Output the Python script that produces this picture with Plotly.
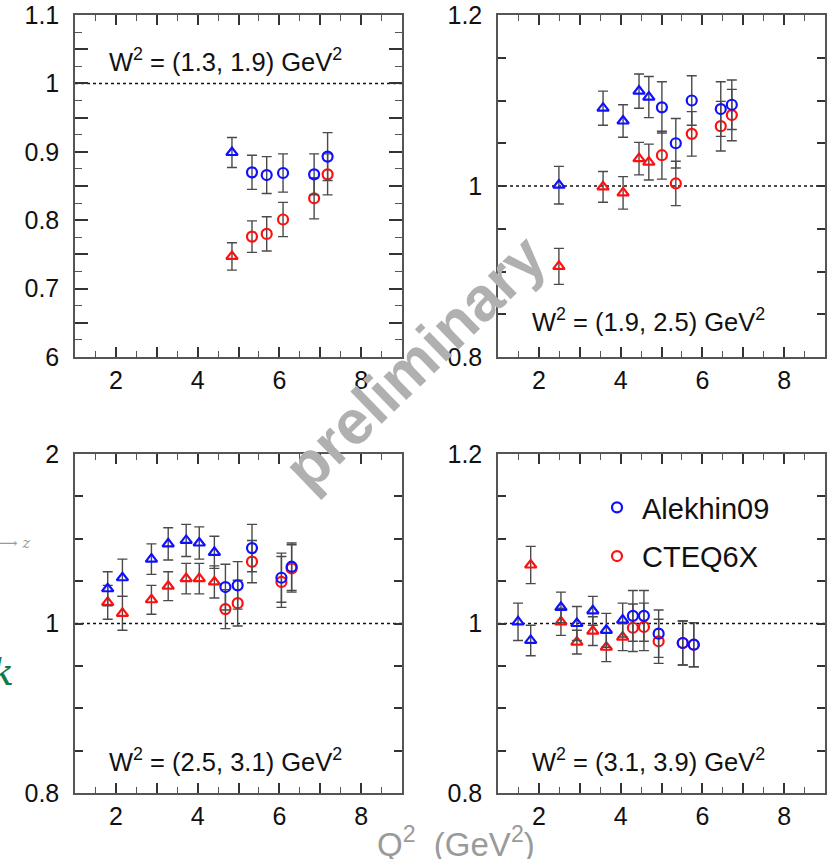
import plotly.graph_objects as go

# ---- data: ratio vs Q^2 in four W^2 bins ----
# W^2 = (1.3, 1.9)
tl_tri_q2 = [4.84]
tl_tri_alekhin = [0.899]
tl_tri_cteq = [0.747]
tl_tri_err_a = [0.022]
tl_tri_err_c = [0.020]
tl_circ_q2 = [5.33, 5.69, 6.09, 6.85, 7.18]
tl_circ_alekhin = [0.870, 0.866, 0.869, 0.867, 0.893]
tl_circ_cteq = [0.776, 0.780, 0.801, 0.832, 0.867]
tl_circ_err_a = [0.025, 0.027, 0.028, 0.030, 0.035]
tl_circ_err_c = [0.023, 0.025, 0.025, 0.030, 0.030]

# W^2 = (1.9, 2.5)
tr_tri_q2 = [2.49, 3.57, 4.06, 4.45, 4.69]
tr_tri_alekhin = [1.001, 1.091, 1.076, 1.111, 1.104]
tr_tri_cteq = [0.906, 0.999, 0.992, 1.032, 1.028]
tr_tri_err_a = [0.022, 0.020, 0.019, 0.020, 0.024]
tr_tri_err_c = [0.021, 0.018, 0.019, 0.019, 0.021]
tr_circ_q2 = [5.01, 5.35, 5.74, 6.45, 6.72]
tr_circ_alekhin = [1.092, 1.050, 1.100, 1.090, 1.095]
tr_circ_cteq = [1.036, 1.003, 1.061, 1.070, 1.083]
tr_circ_err_a = [0.030, 0.029, 0.029, 0.032, 0.029]
tr_circ_err_c = [0.028, 0.026, 0.026, 0.029, 0.030]

# W^2 = (2.5, 3.1)
bl_tri_q2 = [1.80, 2.16, 2.87, 3.28, 3.72, 4.04, 4.41]
bl_tri_alekhin = [1.041, 1.054, 1.076, 1.094, 1.098, 1.095, 1.084]
bl_tri_cteq = [1.025, 1.012, 1.028, 1.044, 1.053, 1.053, 1.049]
bl_tri_err_a = [0.020, 0.022, 0.018, 0.019, 0.019, 0.019, 0.019]
bl_tri_err_c = [0.020, 0.020, 0.017, 0.017, 0.018, 0.018, 0.019]
bl_circ_q2 = [4.68, 4.98, 5.33, 6.05, 6.30]
bl_circ_alekhin = [1.043, 1.045, 1.089, 1.054, 1.067]
bl_circ_cteq = [1.017, 1.024, 1.073, 1.049, 1.065]
bl_circ_err_a = [0.027, 0.028, 0.028, 0.029, 0.028]
bl_circ_err_c = [0.023, 0.027, 0.025, 0.030, 0.028]

# W^2 = (3.1, 3.9)
br_tri_q2 = [1.49, 1.80, 2.54, 2.93, 3.32, 3.65, 4.05]
br_tri_alekhin = [1.002, 0.980, 1.019, 1.000, 1.015, 0.992, 1.004]
br_tri_cteq = [None, 1.069, 1.002, 0.978, 0.991, 0.972, 0.984]
br_tri_err_a = [0.022, 0.018, 0.018, 0.020, 0.017, 0.020, 0.020]
br_tri_err_c = [0.0, 0.022, 0.016, 0.014, 0.017, 0.017, 0.016]
br_circ_q2 = [4.30, 4.57, 4.93, 5.52, 5.79]
br_circ_alekhin = [1.009, 1.009, 0.988, 0.977, 0.975]
br_circ_cteq = [0.995, 0.996, 0.979, 0.977, 0.975]
br_circ_err_a = [0.030, 0.030, 0.028, 0.026, 0.026]
br_circ_err_c = [0.028, 0.028, 0.026, 0.026, 0.026]

panel_labels = ["W<sup>2</sup> = (1.3, 1.9) GeV<sup>2</sup>",
                "W<sup>2</sup> = (1.9, 2.5) GeV<sup>2</sup>",
                "W<sup>2</sup> = (2.5, 3.1) GeV<sup>2</sup>",
                "W<sup>2</sup> = (3.1, 3.9) GeV<sup>2</sup>"]
x_tickvals = [1, 2, 3, 4, 5, 6, 7, 8, 9]
x_ticktext = ["", "2", "", "4", "", "6", "", "8", ""]

BLUE = "#1010ff"
RED = "#ff1010"
ERR = "#4a4a4a"
FONT = "Liberation Sans, Arial, sans-serif"

W, H = 829, 859

def px_x(p):
    return p / W

def px_y(p):
    return 1 - p / H

fig = go.Figure()

panels = [
    ("x", "y", tl_tri_q2, tl_tri_alekhin, tl_tri_cteq, tl_tri_err_a, tl_tri_err_c,
     tl_circ_q2, tl_circ_alekhin, tl_circ_cteq, tl_circ_err_a, tl_circ_err_c),
    ("x2", "y2", tr_tri_q2, tr_tri_alekhin, tr_tri_cteq, tr_tri_err_a, tr_tri_err_c,
     tr_circ_q2, tr_circ_alekhin, tr_circ_cteq, tr_circ_err_a, tr_circ_err_c),
    ("x3", "y3", bl_tri_q2, bl_tri_alekhin, bl_tri_cteq, bl_tri_err_a, bl_tri_err_c,
     bl_circ_q2, bl_circ_alekhin, bl_circ_cteq, bl_circ_err_a, bl_circ_err_c),
    ("x4", "y4", br_tri_q2, br_tri_alekhin, br_tri_cteq, br_tri_err_a, br_tri_err_c,
     br_circ_q2, br_circ_alekhin, br_circ_cteq, br_circ_err_a, br_circ_err_c),
]

def add_points(xa, ya, q2, vals, errs, color, symbol, name, legend, rank):
    fig.add_trace(go.Scatter(
        x=q2, y=vals, xaxis=xa, yaxis=ya, mode="markers", name=name,
        legendgroup=name, legendrank=rank, showlegend=legend,
        marker=dict(symbol=symbol, size=10, color=color,
                    line=dict(color=color, width=2.2)),
        error_y=dict(type="data", array=errs, visible=True,
                     color=ERR, thickness=1.4, width=5),
        cliponaxis=False,
    ))

for i, (xa, ya, tq, ta, tc, tea, tec, cq, ca, cc, cea, cec) in enumerate(panels):
    add_points(xa, ya, tq, tc, tec, RED, "triangle-up-open", "CTEQ6X", False, 2)
    add_points(xa, ya, tq, ta, tea, BLUE, "triangle-up-open", "Alekhin09", False, 1)
    add_points(xa, ya, cq, cc, cec, RED, "circle-open", "CTEQ6X", i == 0, 2)
    add_points(xa, ya, cq, ca, cea, BLUE, "circle-open", "Alekhin09", i == 0, 1)

# panel geometry in pixels
left_x = [75, 402]
right_x = [498, 825]
top_y = [15, 357]
bot_y = [454, 793]

TICKFONT = dict(size=25, color="#111", family=FONT)

def xaxis_cfg(xd, anchor):
    return dict(
        domain=[px_x(xd[0]), px_x(xd[1])], anchor=anchor, range=[1, 9],
        tickvals=x_tickvals, ticktext=x_ticktext, automargin=False,
        ticks="inside", ticklen=10, tickwidth=1.5, tickcolor="#333",
        minor=dict(tick0=0, dtick=0.5, ticks="inside", ticklen=6,
                   tickwidth=1.2, tickcolor="#555"),
        showline=True, linecolor="#555", linewidth=1.5, mirror="ticks",
        showgrid=False, zeroline=False, tickfont=TICKFONT,
    )

def yaxis_cfg(yd, anchor, rng, vals, text, minor_dtick, major_len):
    cfg = dict(
        domain=[px_y(yd[1]), px_y(yd[0])], anchor=anchor, range=rng,
        tickvals=vals, ticktext=text, automargin=False, ticklabelstandoff=9,
        ticks="inside", ticklen=major_len, tickwidth=1.5, tickcolor="#333",
        showline=True, linecolor="#555", linewidth=1.5, mirror="ticks",
        showgrid=False, zeroline=False, tickfont=TICKFONT,
    )
    if minor_dtick:
        cfg["minor"] = dict(tick0=0, dtick=minor_dtick, ticks="inside", ticklen=7,
                            tickwidth=1.2, tickcolor="#555")
    return cfg

tl_vals = [0.6, 0.65, 0.7, 0.75, 0.8, 0.85, 0.9, 0.95, 1.0, 1.05, 1.1]
tl_text = ["6", "", "0.7", "", "0.8", "", "0.9", "", "1", "", "1.1"]
fine_vals = [0.8, 0.85, 0.9, 0.95, 1.0, 1.05, 1.1, 1.15, 1.2]
fine_text = ["0.8", "", "", "", "1", "", "", "", "1.2"]
bl_text = ["0.8", "", "", "", "1", "", "", "", "2"]

fig.update_layout(
    xaxis=xaxis_cfg(left_x, "y"),
    yaxis=yaxis_cfg(top_y, "x", [0.6, 1.1], tl_vals, tl_text, 0.025, 13),
    xaxis2=xaxis_cfg(right_x, "y2"),
    yaxis2=yaxis_cfg(top_y, "x2", [0.8, 1.2], fine_vals, fine_text, None, 8),
    xaxis3=xaxis_cfg(left_x, "y3"),
    yaxis3=yaxis_cfg(bot_y, "x3", [0.8, 1.2], fine_vals, bl_text, None, 8),
    xaxis4=xaxis_cfg(right_x, "y4"),
    yaxis4=yaxis_cfg(bot_y, "x4", [0.8, 1.2], fine_vals, fine_text, None, 8),
)

# dotted unity line in each panel
for xa, ya in [("x", "y"), ("x2", "y2"), ("x3", "y3"), ("x4", "y4")]:
    fig.add_shape(type="line", xref=f"{xa} domain", yref=ya, x0=0, x1=1, y0=1, y1=1,
                  line=dict(color="#111", width=1.5, dash="dot"), layer="below")

# W^2 bin labels
label_pos = [(225, 60), (648, 320), (225, 760), (648, 760)]
for txt, (cx, cy) in zip(panel_labels, label_pos):
    fig.add_annotation(text=txt, xref="paper", yref="paper", x=px_x(cx), y=px_y(cy),
                       xanchor="center", yanchor="middle", showarrow=False,
                       font=dict(size=25.5, color="#111", family=FONT))

# axis title
fig.add_annotation(text="Q<sup>2</sup>  (GeV<sup>2</sup>)", xref="paper", yref="paper",
                   x=px_x(456), y=px_y(842), xanchor="center", yanchor="middle",
                   showarrow=False, font=dict(size=33, color="#9a9a9a", family=FONT))

# fragments at the left edge
fig.add_annotation(text="\u27f6 <i>z</i>", xref="paper", yref="paper",
                   x=px_x(-6), y=px_y(543), xanchor="left", yanchor="middle",
                   showarrow=False, font=dict(size=15, color="#999", family="DejaVu Serif"))
fig.add_annotation(text="<i>k</i>", xref="paper", yref="paper",
                   x=px_x(16), y=px_y(672), xanchor="right", yanchor="middle",
                   showarrow=False, font=dict(size=38, color="#137a45", family="DejaVu Serif"))

# watermark
fig.add_annotation(text="preliminary", xref="paper", yref="paper",
                   x=px_x(414), y=px_y(362), xanchor="center", yanchor="middle",
                   textangle=-44, showarrow=False,
                   font=dict(size=62, color="#b0b0b0", family=FONT, weight="bold"))

fig.update_layout(
    width=W, height=H, margin=dict(l=0, r=0, t=0, b=0),
    paper_bgcolor="white", plot_bgcolor="white",
    showlegend=True,
    legend=dict(x=px_x(592), y=px_y(482), xanchor="left", yanchor="top",
                bgcolor="rgba(0,0,0,0)", font=dict(size=29, color="#111", family=FONT),
                traceorder="grouped", tracegroupgap=8, itemwidth=40),
)

fig.write_html("out.html")
